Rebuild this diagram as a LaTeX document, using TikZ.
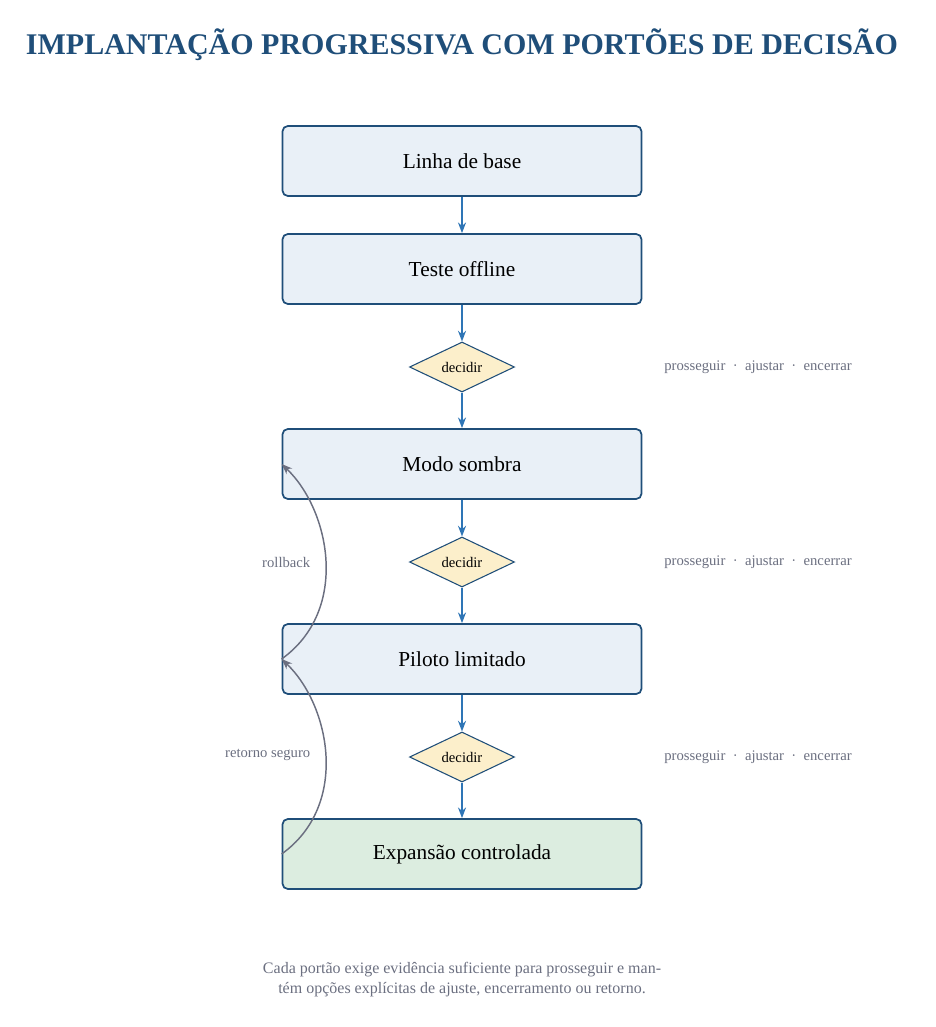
\documentclass[tikz,border=0pt]{standalone}
\usepackage{fontspec}
\setmainfont{Liberation Serif}
\usetikzlibrary{shapes.geometric,arrows.meta}
\definecolor{navy}{HTML}{1F4E79}
\definecolor{stepfill}{HTML}{E9F0F7}
\definecolor{gofill}{HTML}{DCEDE0}
\definecolor{gatefill}{HTML}{FCEFCB}
\definecolor{flow}{HTML}{2E75B6}
\definecolor{note}{HTML}{6B6F80}
\tikzset{
  stage/.style={draw=navy,line width=1.3pt,fill=stepfill,rounded corners=4pt,minimum width=359*0.75pt,minimum height=70*0.75pt,font=\fontsize{16}{19}\selectfont},
  gate/.style={draw=navy,line width=0.8pt,fill=gatefill,diamond,aspect=2.1,minimum width=105*0.75pt,minimum height=50*0.75pt,inner sep=0pt,font=\fontsize{11}{13}\selectfont},
  flowarrow/.style={flow,line width=1.3pt,-{Stealth[length=8pt,width=6pt]}},
  back/.style={note,line width=1.1pt,-{Stealth[length=8pt,width=6pt]}},
  notetext/.style={text=note,font=\fontsize{11}{14}\selectfont}
}
\begin{document}
\begin{tikzpicture}[x=0.75pt,y=-0.75pt]
\useasboundingbox (0,0) rectangle (935,1027);
\node[text=navy,font=\bfseries\fontsize{22.5}{26}\selectfont] (title) at (462,45) {IMPLANTAÇÃO PROGRESSIVA COM PORTÕES DE DECISÃO};

\node[stage] (base) at (462,161) {Linha de base};
\node[stage] (offline) at (462,269) {Teste offline};
\node[gate] (g1) at (462,367) {decidir};
\node[stage] (sombra) at (462,464) {Modo sombra};
\node[gate] (g2) at (462,562) {decidir};
\node[stage] (piloto) at (462,659) {Piloto limitado};
\node[gate] (g3) at (462,757) {decidir};
\node[stage,fill=gofill] (expansao) at (462,854) {Expansão controlada};

\foreach \g in {g1,g2,g3}
  \node[notetext] at (758,0 |- \g) {prosseguir \ \textperiodcentered\ \ ajustar \ \textperiodcentered\ \ encerrar};

\draw[flowarrow] (base) -- (offline);
\draw[flowarrow] (offline) -- (g1);
\draw[flowarrow] (g1) -- (sombra);
\draw[flowarrow] (sombra) -- (g2);
\draw[flowarrow] (g2) -- (piloto);
\draw[flowarrow] (piloto) -- (g3);
\draw[flowarrow] (g3) -- (expansao);

\draw[back] (piloto.west) .. controls (350,610) and (330,510) .. (sombra.west);
\draw[back] (expansao.west) .. controls (350,805) and (330,705) .. (piloto.west);
\node[notetext,anchor=east] (rb) at (315,562) {rollback};
\node[notetext,anchor=east] (rs) at (315,755) {retorno seguro};

\node[notetext,align=center,font=\fontsize{12}{15}\selectfont] (foot) at (462,980) {Cada portão exige evidência suficiente para prosseguir e man-\\tém opções explícitas de ajuste, encerramento ou retorno.};
\end{tikzpicture}
\end{document}
